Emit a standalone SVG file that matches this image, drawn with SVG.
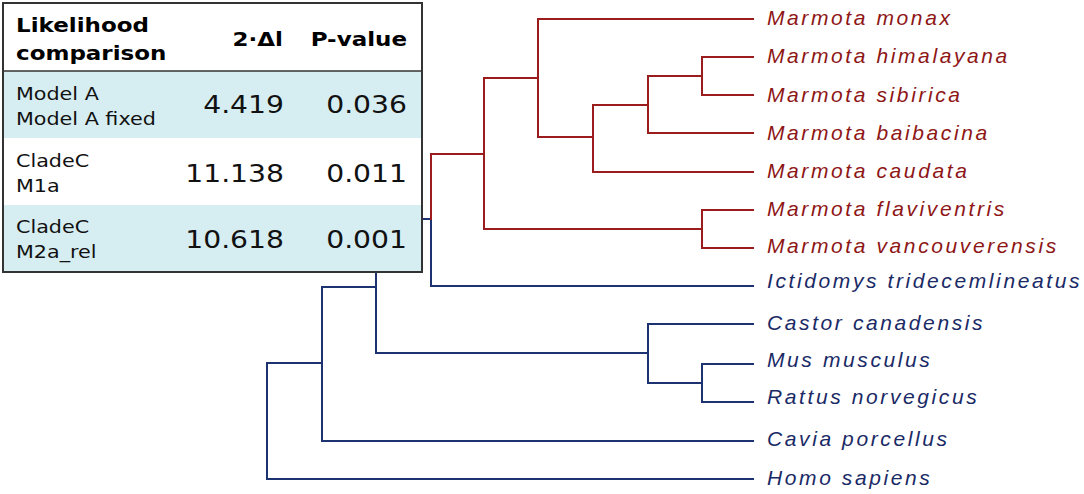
<svg xmlns="http://www.w3.org/2000/svg" width="1084" height="494" viewBox="0 0 1084 494">
<style>
.r{stroke:#9b1c1c;stroke-width:2;fill:none;stroke-linecap:square}
.b{stroke:#1d3270;stroke-width:2;fill:none;stroke-linecap:square}
.lr{font-family:"Liberation Sans",Arial,sans-serif;font-style:italic;font-size:21px;letter-spacing:2.6px;fill:#8e1616}
.lb{font-family:"Liberation Sans",Arial,sans-serif;font-style:italic;font-size:21px;letter-spacing:2.6px;fill:#1a2a66}
.hd{font-family:"DejaVu Sans",sans-serif;font-weight:bold;font-size:20px;fill:#000}
.lab{font-family:"DejaVu Sans",sans-serif;font-size:18px;fill:#111}
.num{font-family:"DejaVu Sans",sans-serif;font-size:25px;fill:#111;text-anchor:end}
</style>
<rect width="1084" height="494" fill="#fff"/>
<g id="connectors">
<path class="b" d="M376 219H431V286H753"/>
<path class="r" d="M431 219V154H484"/>
<path class="r" d="M484 78V229"/>
<path class="r" d="M484 78H538V19H753"/>
<path class="r" d="M538 19V137H593"/>
<path class="r" d="M593 105V172H753"/>
<path class="r" d="M593 105H648V133H753"/>
<path class="r" d="M648 76V133"/>
<path class="r" d="M648 76H702V57H753"/>
<path class="r" d="M702 57V95H753"/>
<path class="r" d="M484 229H702"/>
<path class="r" d="M702 210V248H753"/>
<path class="r" d="M702 210H753"/>
<path class="b" d="M376 219V353H648"/>
<path class="b" d="M322 287H376"/>
<path class="b" d="M648 324V383H702"/>
<path class="b" d="M648 324H753"/>
<path class="b" d="M702 364V402H753"/>
<path class="b" d="M702 364H753"/>
<path class="b" d="M322 287V441H753"/>
<path class="b" d="M267 363H322"/>
<path class="b" d="M267 363V479H753"/>
</g>
<g id="leaves">
<g id="n-monax"><text class="lr" x="767" y="25">Marmota monax</text></g>
<g id="n-himalayana"><text class="lr" x="767" y="63">Marmota himalayana</text></g>
<g id="n-sibirica"><text class="lr" x="767" y="102">Marmota sibirica</text></g>
<g id="n-baibacina"><text class="lr" x="767" y="140">Marmota baibacina</text></g>
<g id="n-caudata"><text class="lr" x="767" y="178">Marmota caudata</text></g>
<g id="n-flaviventris"><text class="lr" x="767" y="216">Marmota flaviventris</text></g>
<g id="n-vancouverensis"><text class="lr" x="767" y="253">Marmota vancouverensis</text></g>
<g id="n-ictidomys"><text class="lb" x="767" y="288">Ictidomys tridecemlineatus</text></g>
<g id="n-castor"><text class="lb" x="767" y="330">Castor canadensis</text></g>
<g id="n-mus"><text class="lb" x="767" y="367">Mus musculus</text></g>
<g id="n-rattus"><text class="lb" x="767" y="404">Rattus norvegicus</text></g>
<g id="n-cavia"><text class="lb" x="767" y="446">Cavia porcellus</text></g>
<g id="n-homo"><text class="lb" x="767" y="485">Homo sapiens</text></g>
</g>
<g id="table">
<rect x="3" y="3" width="419" height="269" fill="#fff"/>
<rect x="3" y="71" width="419" height="67" fill="#d6eef2"/>
<rect x="3" y="205" width="419" height="67" fill="#d6eef2"/>
<line x1="3" y1="71" x2="422" y2="71" stroke="#333" stroke-width="1.5"/>
<rect x="3" y="3" width="419" height="269" fill="none" stroke="#333" stroke-width="2"/>
<text class="hd" transform="translate(16,32) scale(1.15,1)">Likelihood</text>
<text class="hd" transform="translate(16,60) scale(1.15,1)">comparison</text>
<text class="hd" text-anchor="end" transform="translate(283,46) scale(1.15,1)">2·Δl</text>
<text class="hd" text-anchor="end" transform="translate(407,46) scale(1.15,1)">P-value</text>
<text class="lab" transform="translate(16,100) scale(1.15,1)">Model A</text>
<text class="lab" transform="translate(16,125) scale(1.15,1)">Model A fixed</text>
<text class="num" transform="translate(284,113) scale(1.13,1)">4.419</text>
<text class="num" transform="translate(407,113) scale(1.13,1)">0.036</text>
<text class="lab" transform="translate(16,167) scale(1.15,1)">CladeC</text>
<text class="lab" transform="translate(16,192) scale(1.15,1)">M1a</text>
<text class="num" transform="translate(284,182) scale(1.13,1)">11.138</text>
<text class="num" transform="translate(407,182) scale(1.13,1)">0.011</text>
<text class="lab" transform="translate(16,233) scale(1.15,1)">CladeC</text>
<text class="lab" transform="translate(16,258) scale(1.15,1)">M2a_rel</text>
<text class="num" transform="translate(284,248) scale(1.13,1)">10.618</text>
<text class="num" transform="translate(407,248) scale(1.13,1)">0.001</text>
</g>
</svg>
